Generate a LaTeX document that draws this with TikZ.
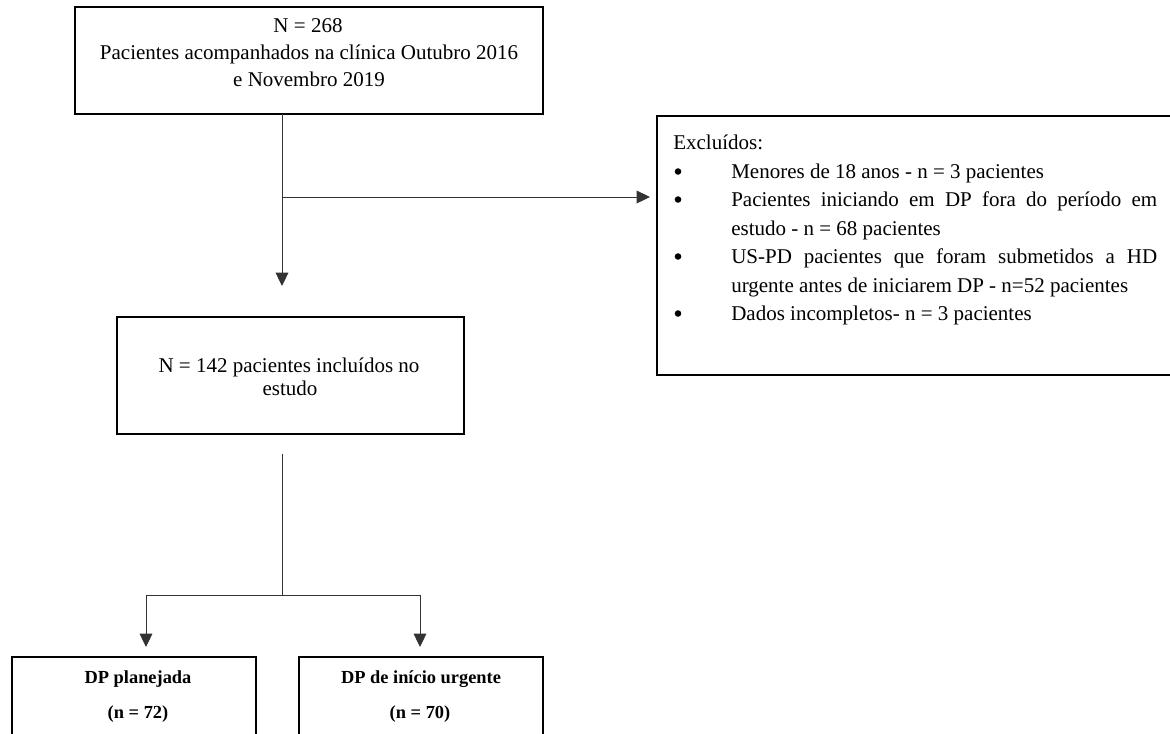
\documentclass[tikz,border=0pt]{standalone}
\usepackage{fontspec}
\setmainfont{Liberation Serif}
\usetikzlibrary{arrows.meta}
\begin{document}
\begin{tikzpicture}[x=0.75pt,y=-0.75pt,
  box/.style={draw=black, line width=1.6pt, inner sep=0pt, outer sep=0pt, fill=none},
  thinbox/.style={draw=black, line width=1.1pt, inner sep=0pt, outer sep=0pt},
  conn/.style={draw=black!80, line width=0.75pt},
  arr/.style={conn, -{Triangle[length=10pt,width=9.5pt]}},
  dot/.style={circle, fill=black, draw=none, inner sep=0pt, minimum size=4.9pt},
  txt/.style={font=\fontsize{15.75}{18}\selectfont, inner sep=0pt, anchor=base},
  ltxt/.style={txt, anchor=base west},
  btxt/.style={font=\fontsize{13.8}{16}\bfseries\selectfont, inner sep=0pt, anchor=base}]
\useasboundingbox (0,0) rectangle (1170,733);
\clip (0,0) rectangle (1170,733);

% boxes
\node[box, minimum width=351pt, minimum height=80.25pt] (top) at (309,60.5) {};
\node[box, minimum width=399.75pt, minimum height=194.25pt] (excl) at (923.5,245.5) {};
\node[thinbox, minimum width=260.25pt, minimum height=87.75pt] (mid) at (290.5,375.5) {};
\node[box, minimum width=183pt, minimum height=92.25pt] (left) at (134,718.5) {};
\node[box, minimum width=183pt, minimum height=92.25pt] (right) at (421,718.5) {};

% top box text
\node[txt] (t1) at (308,32) {N = 268};
\node[txt] (t2) at (309,59) {Pacientes acompanhados na clínica Outubro 2016};
\node[txt] (t3) at (309,86.5) {e Novembro 2019};

% mid box text
\node[txt] (m1) at (289,372) {N = 142 pacientes incluídos no};
\node[txt] (m2) at (290,395) {estudo};

% exclusion text
\node[ltxt] (e0) at (673,149) {Excluídos:};
\node[dot] (b1) at (678,171.5) {};
\node[ltxt] (e1) at (731,178) {Menores de 18 anos - n = 3 pacientes};
\node[dot] (b2) at (678,199.5) {};
\node[ltxt] (e2) at (731,206.5) {\makebox[319.5pt][s]{Pacientes iniciando em DP fora do período em}};
\node[ltxt] (e3) at (731,235) {estudo - n = 68 pacientes};
\node[dot] (b3) at (678,256.5) {};
\node[ltxt] (e4) at (731,263.5) {\makebox[319.5pt][s]{US-PD pacientes que foram submetidos a HD}};
\node[ltxt] (e5) at (731,292) {urgente antes de iniciarem DP - n=52 pacientes};
\node[dot] (b4) at (678,313.5) {};
\node[ltxt] (e6) at (731,320.5) {Dados incompletos- n = 3 pacientes};

% bottom texts
\node[btxt] (l1) at (138,683) {DP planejada};
\node[btxt] (l2) at (138,718) {(n = 72)};
\node[btxt] (r1) at (421,683) {DP de início urgente};
\node[btxt] (r2) at (420,718) {(n = 70)};

% connector ends
\coordinate (downtip) at (282,286);
\coordinate (brtip) at (650,197);
\coordinate (midout) at (282,454);
\coordinate (split) at (282,595);
\coordinate (ltip) at (146,647);
\coordinate (rtip) at (420,647);

\draw[arr] (downtip |- top.south) -- (downtip);
\draw[arr] (downtip |- brtip) -- (brtip);
\draw[conn] (midout) -- (split);
\draw[arr] (split) -| (ltip);
\draw[arr] (split) -| (rtip);
\end{tikzpicture}
\end{document}
